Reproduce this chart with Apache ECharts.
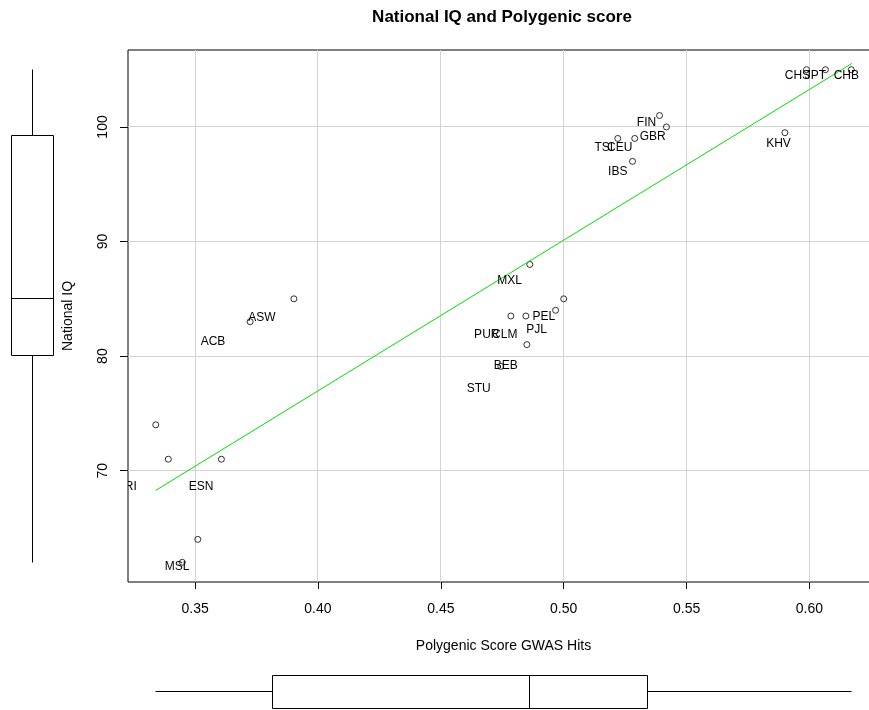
<!DOCTYPE html>
<html>
<head>
<meta charset="utf-8">
<script src="https://cdn.jsdelivr.net/npm/echarts@6/dist/echarts.min.js"></script>
<style>html,body{margin:0;padding:0;background:#fff}#c{width:869px;height:710px}</style>
</head>
<body>
<div id="c"></div>
<script>
// ---- data ----
const polygenicScore = [0.5988, 0.6065, 0.617, 0.539, 0.5418, 0.522, 0.5289, 0.528, 0.590,
  0.4862, 0.500, 0.4967, 0.4785, 0.4846, 0.4850, 0.4744,
  0.3902, 0.3724, 0.334, 0.3391, 0.3607, 0.3511, 0.3448];
const nationalIQ = [105, 105, 105, 101, 100, 99, 99, 97, 99.5,
  88, 85, 84, 83.5, 83.5, 81, 79.1,
  85, 83, 74, 71, 71, 64, 62];
const labelNames = ['CHS','JPT','CHB','FIN','GBR','TSI','CEU','IBS','KHV',
  'MXL','PEL','PJL','PUR','CLM','BEB','STU','ASW','ACB','YRI','ESN','MSL'];
const labelX = [0.5951, 0.6024, 0.6150, 0.5337, 0.5362, 0.5163, 0.5228, 0.5220, 0.5874,
  0.4780, 0.4919, 0.4890, 0.4687, 0.4760, 0.4764, 0.4654, 0.3772, 0.3573, 0.3222, 0.3524, 0.3427];
const labelY = [104.45, 104.45, 104.45, 100.35, 99.13, 98.17, 98.17, 96.08, 98.52,
  86.57, 83.44, 82.30, 81.87, 81.87, 79.16, 77.16, 83.35, 81.26, 68.61, 68.61, 61.65];
const trendX = [0.334, 0.6173];
const trendY = [68.28, 105.55];
const xTicks = [0.35, 0.40, 0.45, 0.50, 0.55, 0.60];
const yTicks = [70, 80, 90, 100];
const titleText = 'National IQ and Polygenic score';
const xName = 'Polygenic Score GWAS Hits';
const yName = 'National IQ';

// ---- helpers ----
function fivenum(arr) {
  const s = [...arr].sort((a, b) => a - b);
  const n = s.length;
  const n4 = Math.floor((n + 3) / 2) / 2;
  const d = [1, n4, (n + 1) / 2, n + 1 - n4, n];
  return d.map(v => 0.5 * (s[Math.floor(v) - 1] + s[Math.ceil(v) - 1]));
}
function boxStats(arr) {
  const f = fivenum(arr);
  const iqr = f[3] - f[1];
  const inside = arr.filter(v => v >= f[1] - 1.5 * iqr && v <= f[3] + 1.5 * iqr);
  return [Math.min(...inside), f[1], f[2], f[3], Math.max(...inside)];
}
const xStats = boxStats(polygenicScore);
const yStats = boxStats(nationalIQ);

const FONT = '"Liberation Sans", Arial, Helvetica, sans-serif';
const X_MIN = 0.3227, X_MAX = 0.6283, Y_MIN = 60.28, Y_MAX = 106.72;
const h = v => Math.round(v - 0.5) + 0.5;
const LS = { stroke: '#000', lineWidth: 1, fill: null };

const points = polygenicScore.map((x, i) => [x, nationalIQ[i]]);
const labels = labelNames.map((n, i) => [labelX[i], labelY[i], n]);

const chart = echarts.init(document.getElementById('c'));
chart.setOption({
  animation: false,
  backgroundColor: '#fff',
  textStyle: { fontFamily: FONT },
  graphic: [{
    type: 'text', x: 502, y: 17,
    style: { text: titleText, font: 'bold 17px ' + FONT, fill: '#000', align: 'center', verticalAlign: 'middle' }
  }],
  grid: [
    { left: 128, top: 50, width: 751, height: 532, show: true, borderColor: '#000', borderWidth: 1,
      backgroundColor: 'transparent', outerBoundsMode: 'none', containLabel: false },
    { left: 11, top: 50, width: 42, height: 532, outerBoundsMode: 'none', containLabel: false },
    { left: 128, top: 675, width: 751, height: 33, outerBoundsMode: 'none', containLabel: false }
  ],
  xAxis: [
    {
      gridIndex: 0, type: 'value', min: X_MIN, max: X_MAX,
      axisLine: { show: false }, splitLine: { show: false },
      axisTick: { show: true, length: 7, customValues: xTicks, lineStyle: { color: '#000' } },
      axisLabel: { customValues: xTicks, margin: 20, fontSize: 14, color: '#000', fontFamily: FONT,
        formatter: v => v.toFixed(2) },
      name: xName, nameLocation: 'middle', nameGap: 57,
      nameTextStyle: { fontSize: 14, color: '#000', fontFamily: FONT }
    },
    { gridIndex: 1, type: 'value', min: 0, max: 1, show: false },
    { gridIndex: 2, type: 'value', min: X_MIN, max: X_MAX, show: false }
  ],
  yAxis: [
    {
      gridIndex: 0, type: 'value', min: Y_MIN, max: Y_MAX,
      axisLine: { show: false }, splitLine: { show: false },
      axisTick: { show: true, length: 8, customValues: yTicks, lineStyle: { color: '#000' } },
      axisLabel: { customValues: yTicks, rotate: 90, margin: 18, fontSize: 14, color: '#000', fontFamily: FONT },
      name: yName, nameLocation: 'middle', nameGap: 53,
      nameTextStyle: { fontSize: 14, color: '#000', fontFamily: FONT }
    },
    { gridIndex: 1, type: 'value', min: Y_MIN, max: Y_MAX, show: false },
    { gridIndex: 2, type: 'value', min: 0, max: 1, show: false }
  ],
  series: [
    {
      type: 'custom', xAxisIndex: 0, yAxisIndex: 0, z: 1, silent: true, clip: true,
      data: [[X_MIN, Y_MIN]],
      renderItem: (params, api) => {
        const ch = [];
        xTicks.forEach(v => {
          const a = api.coord([v, Y_MIN]), b = api.coord([v, Y_MAX]);
          ch.push({ type: 'line', shape: { x1: h(a[0]), y1: a[1], x2: h(b[0]), y2: b[1] }, style: { stroke: '#d3d3d3', lineWidth: 1 } });
        });
        yTicks.forEach(v => {
          const a = api.coord([X_MIN, v]), b = api.coord([X_MAX, v]);
          ch.push({ type: 'line', shape: { x1: a[0], y1: h(a[1]), x2: b[0], y2: h(b[1]) }, style: { stroke: '#d3d3d3', lineWidth: 1 } });
        });
        return { type: 'group', children: ch };
      }
    },
    {
      type: 'scatter', xAxisIndex: 0, yAxisIndex: 0, z: 3, silent: true,
      symbol: 'circle', symbolSize: 6,
      itemStyle: { color: 'rgba(0,0,0,0)', borderColor: '#000', borderWidth: 1 },
      data: points
    },
    {
      type: 'line', xAxisIndex: 0, yAxisIndex: 0, z: 4, silent: true,
      symbol: 'none', lineStyle: { color: '#00e000', width: 1 },
      data: trendX.map((x, i) => [x, trendY[i]])
    },
    {
      type: 'custom', xAxisIndex: 0, yAxisIndex: 0, z: 5, silent: true, clip: true,
      data: labels,
      renderItem: (params, api) => {
        const p = api.coord([api.value(0), api.value(1)]);
        return { type: 'text', x: p[0], y: p[1],
          style: { text: labelNames[params.dataIndex], font: '12px ' + FONT, fill: '#000', align: 'center', verticalAlign: 'middle' } };
      }
    },
    {
      type: 'custom', xAxisIndex: 1, yAxisIndex: 1, silent: true,
      data: [[0, Y_MIN]],
      renderItem: (params, api) => {
        const s = yStats;
        const cx = h(api.coord([0.5, 0])[0]);
        const l = h(api.coord([0, 0])[0]), r = h(api.coord([1, 0])[0]);
        const y = s.map(v => h(api.coord([0, v])[1]));
        return { type: 'group', children: [
          { type: 'line', shape: { x1: cx, y1: y[4], x2: cx, y2: y[3] }, style: LS },
          { type: 'line', shape: { x1: cx, y1: y[1], x2: cx, y2: y[0] }, style: LS },
          { type: 'rect', shape: { x: l, y: y[3], width: r - l, height: y[1] - y[3] }, style: { stroke: '#000', lineWidth: 1, fill: '#fff' } },
          { type: 'line', shape: { x1: l, y1: y[2], x2: r, y2: y[2] }, style: LS }
        ] };
      }
    },
    {
      type: 'custom', xAxisIndex: 2, yAxisIndex: 2, silent: true,
      data: [[X_MIN, 0]],
      renderItem: (params, api) => {
        const s = xStats;
        const cy = h(api.coord([X_MIN, 0.5])[1]);
        const t = h(api.coord([X_MIN, 1])[1]), b = h(api.coord([X_MIN, 0])[1]);
        const x = s.map(v => h(api.coord([v, 0])[0]));
        return { type: 'group', children: [
          { type: 'line', shape: { x1: x[0], y1: cy, x2: x[1], y2: cy }, style: LS },
          { type: 'line', shape: { x1: x[3], y1: cy, x2: x[4], y2: cy }, style: LS },
          { type: 'rect', shape: { x: x[1], y: t, width: x[3] - x[1], height: b - t }, style: { stroke: '#000', lineWidth: 1, fill: '#fff' } },
          { type: 'line', shape: { x1: x[2], y1: t, x2: x[2], y2: b }, style: LS }
        ] };
      }
    }
  ]
});
</script>
</body>
</html>
